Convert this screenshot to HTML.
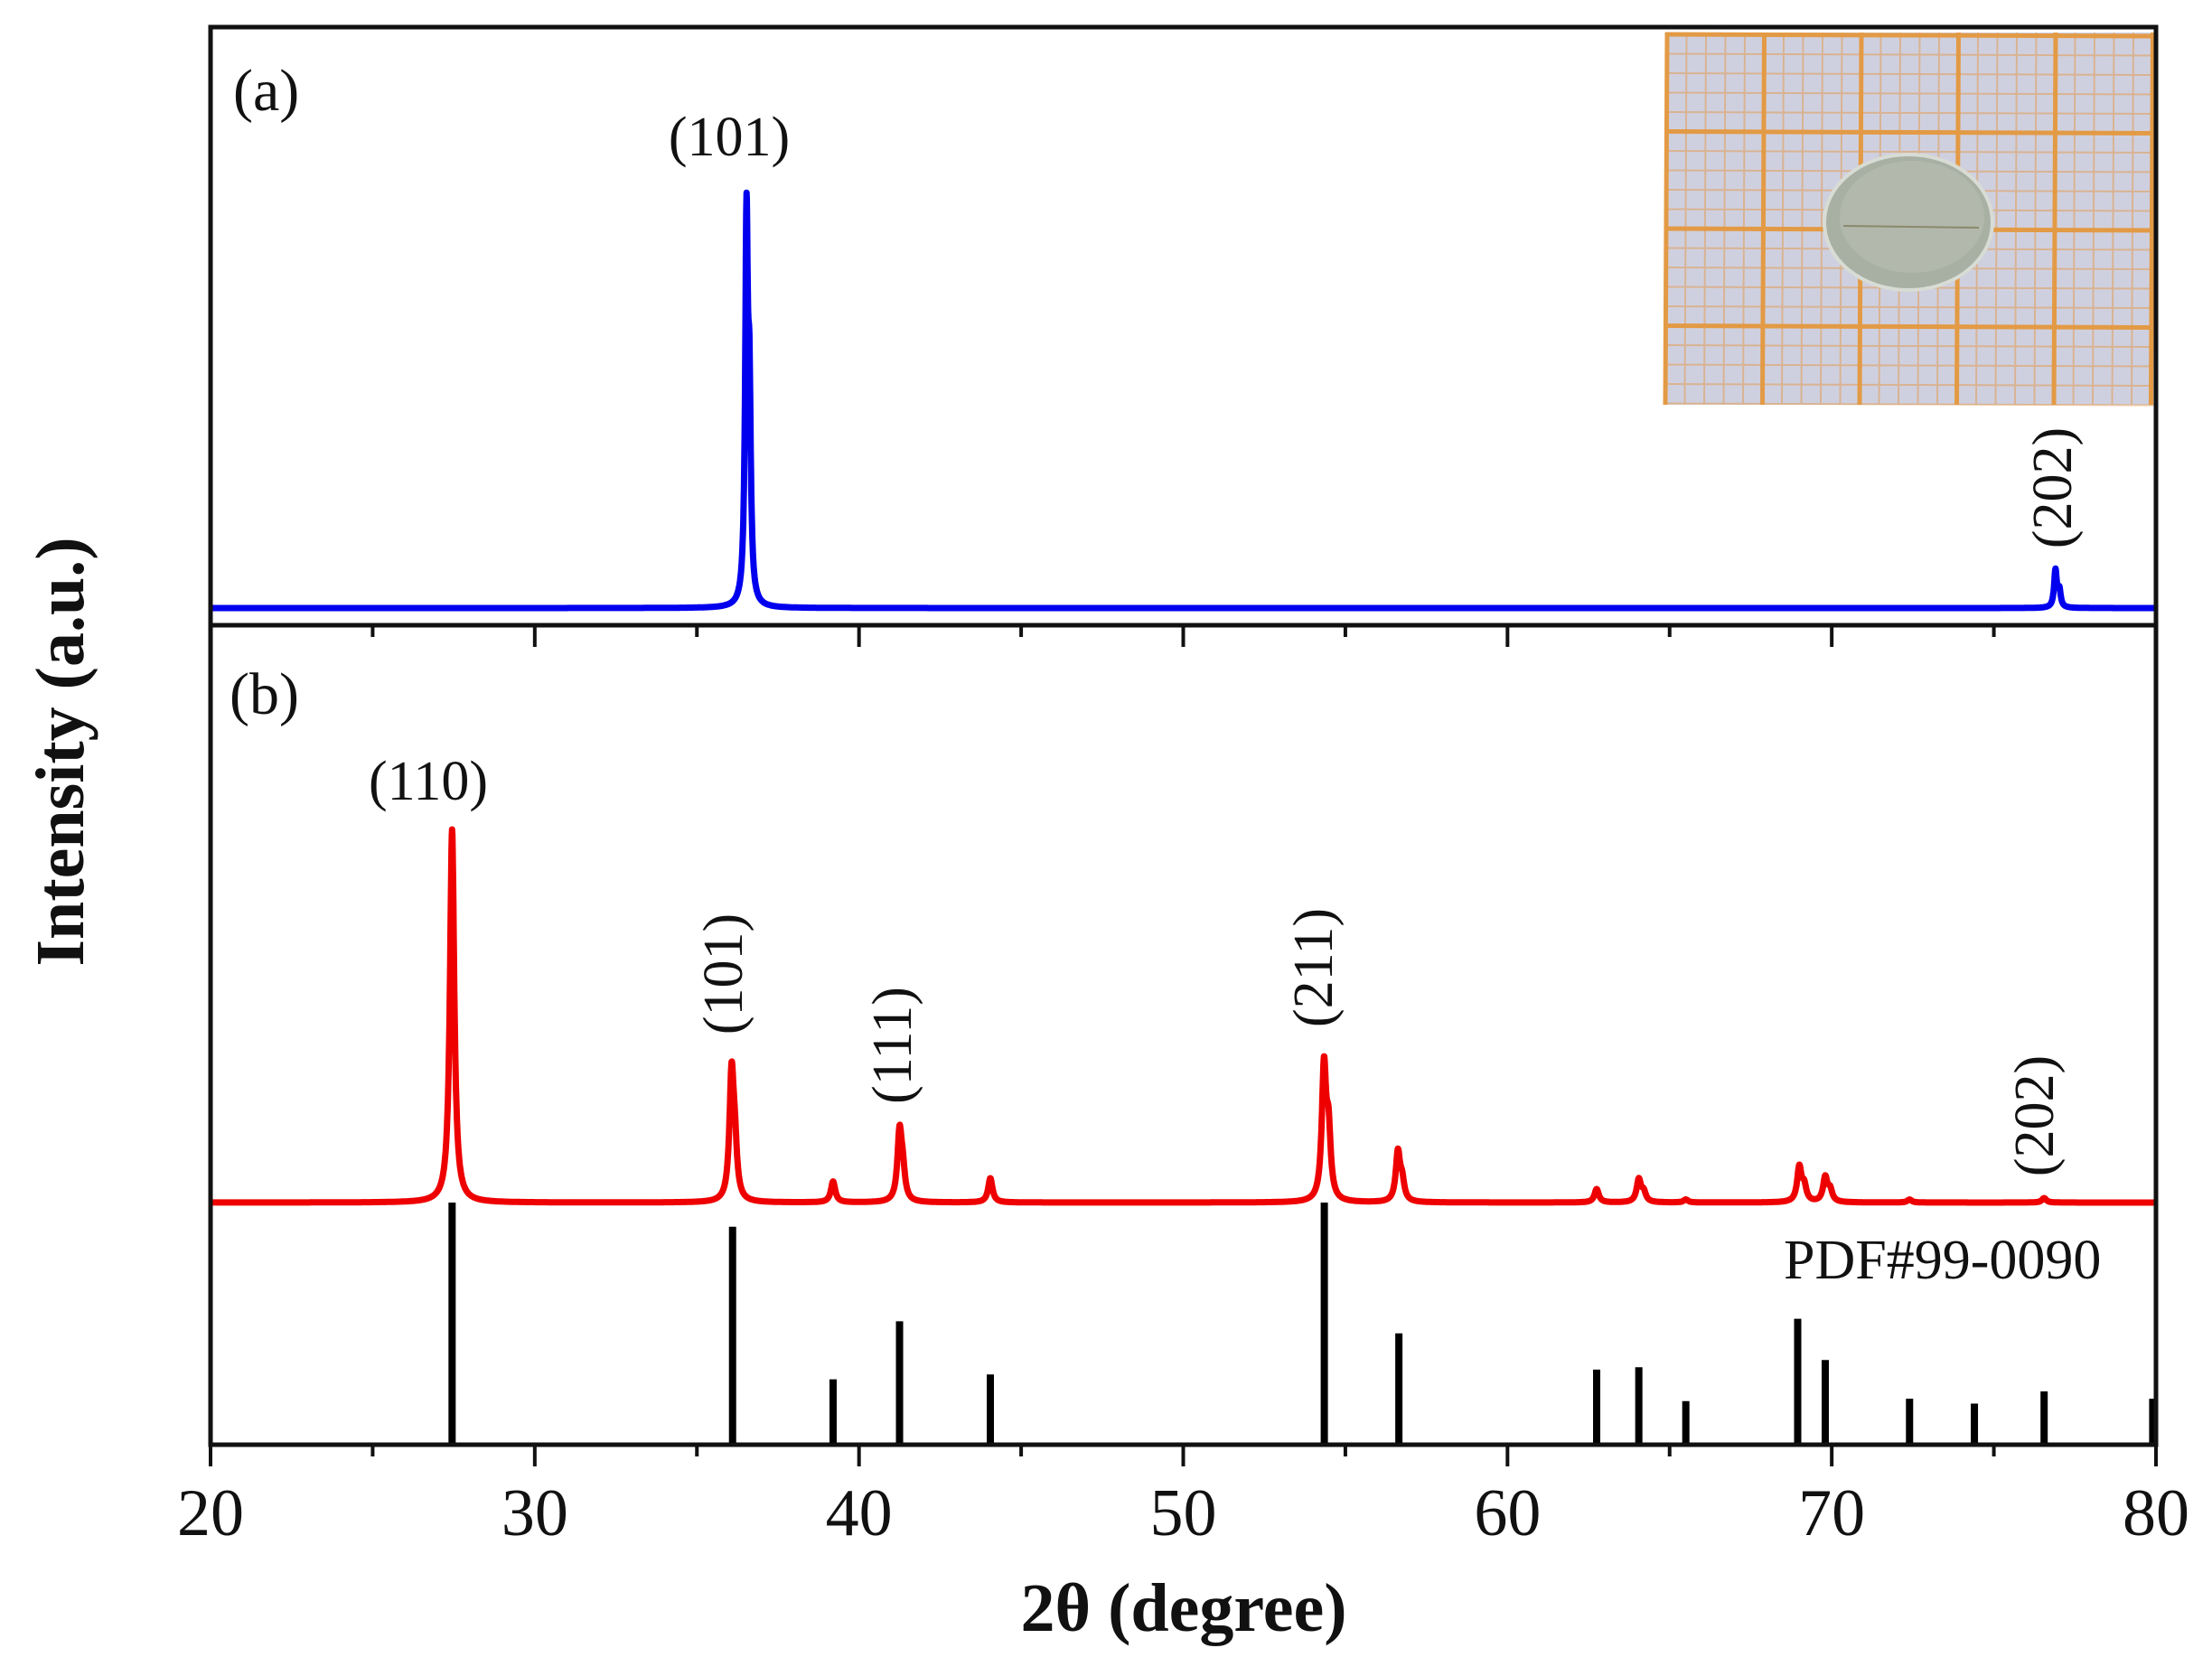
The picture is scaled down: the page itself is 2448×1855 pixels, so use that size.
<!DOCTYPE html>
<html><head><meta charset="utf-8"><style>
html,body{margin:0;padding:0;background:#fff;}
svg{display:block;}
text{font-family:"Liberation Serif",serif;fill:#111;}
</style></head><body>
<svg id="chart" width="2448" height="1855" viewBox="0 0 2448 1855" xmlns="http://www.w3.org/2000/svg">
<rect width="2448" height="1855" fill="#fff"/>
<g>
  <rect x="1843" y="36" width="542" height="412" fill="#cfd0df"/>
  <g id="grid-minor" stroke="#e0a060" stroke-width="2" opacity="0.6"></g>
  <g id="grid-major" stroke="#e39a45" stroke-width="5"></g>
  <ellipse cx="2112" cy="246" rx="93" ry="75" fill="#a8b0a4" stroke="#d8dcd4" stroke-width="4"/>
  <ellipse cx="2116" cy="240" rx="80" ry="62" fill="#b4baae" opacity="0.8"/>
  <line x1="2040" y1="250" x2="2190" y2="252" stroke="#8a8a6a" stroke-width="2"/>
</g>
<g id="plot"></g>
<rect x="233" y="30" width="2153" height="1569" fill="none" stroke="#111" stroke-width="5"/>
<line x1="233" y1="692" x2="2386" y2="692" stroke="#111" stroke-width="5"/>
<g id="ticks" stroke="#111" stroke-width="4"></g>
<g id="ticklabels"></g>
<text x="258" y="122" font-size="66">(a)</text>
<text x="254" y="790" font-size="66">(b)</text>
<text x="807" y="172" font-size="62" text-anchor="middle">(101)</text>
<text transform="translate(2292,540) rotate(-90)" font-size="62" text-anchor="middle">(202)</text>
<text x="474" y="885" font-size="62" text-anchor="middle">(110)</text>
<text transform="translate(821,1078) rotate(-90)" font-size="62" text-anchor="middle">(101)</text>
<text transform="translate(1008,1157) rotate(-90)" font-size="62" text-anchor="middle">(111)</text>
<text transform="translate(1474,1071) rotate(-90)" font-size="62" text-anchor="middle">(211)</text>
<text transform="translate(2272,1235) rotate(-90)" font-size="62" text-anchor="middle">(202)</text>
<text x="1974" y="1415" font-size="62">PDF#99-0090</text>
<text x="1310" y="1805" font-size="76" font-weight="bold" text-anchor="middle">2θ (degree)</text>
<text transform="translate(92,832) rotate(-90)" font-size="76" font-weight="bold" text-anchor="middle">Intensity (a.u.)</text>
</svg>
<script>
const xTicks = [20, 30, 40, 50, 60, 70, 80];
const xMinorTicks = [25, 35, 45, 55, 65, 75];
const filmPeakPos = [36.53, 36.62, 76.9, 77.02];
const filmPeakInt = [90, 45, 9, 4];
const powderPeakPos = [27.45, 36.07, 36.17, 39.2, 41.25, 41.35, 44.05, 54.34, 54.48, 56.62, 56.75, 62.75, 64.05, 64.2, 65.5, 69.0, 69.15, 69.8, 69.95, 72.4, 76.55];
const powderPeakInt = [100, 33, 12, 5.6, 18, 7, 6.5, 35, 17, 13, 5, 3.6, 6, 2.5, 0.8, 9.2, 4, 6.5, 3, 0.8, 1.2];
const refPos = [27.45, 36.1, 39.2, 41.25, 44.05, 54.35, 56.65, 62.75, 64.05, 65.5, 68.95, 69.8, 72.4, 74.4, 76.55, 79.9];
const refInt = [100, 90, 27, 51, 29, 100, 46, 31, 32, 18, 52, 35, 19, 17, 22, 19];

const NS = "http://www.w3.org/2000/svg";
const X0 = 233, X1 = 2386;
const xs = v => X0 + (v - 20) / 60 * (X1 - X0);
const yA = v => 673 - v * 4.57;
const yB = v => 1331 - v * 4.13;
const yR = v => 1599 - v * 2.68;
const plot = document.getElementById('plot');

function profile(pos, ints, x, w) {
  let s = 0;
  for (let i = 0; i < pos.length; i++) { const d = (x - pos[i]) / w; s += ints[i] / (1 + d * d); }
  return s;
}
function curve(pos, ints, yf, w) {
  let d = '';
  for (let x = 20; x <= 80.0001; x += 0.01) {
    d += (d ? 'L' : 'M') + xs(x).toFixed(1) + ',' + yf(profile(pos, ints, x, w)).toFixed(1);
  }
  return d;
}
const pa = document.createElementNS(NS, 'path');
pa.setAttribute('d', curve(filmPeakPos, filmPeakInt, yA, 0.05));
pa.setAttribute('fill', 'none'); pa.setAttribute('stroke', '#0000ee'); pa.setAttribute('stroke-width', '7'); pa.setAttribute('stroke-linejoin', 'round');


plot.appendChild(pa);

for (let i = 0; i < refPos.length; i++) {
  const l = document.createElementNS(NS, 'line');
  l.setAttribute('x1', xs(refPos[i])); l.setAttribute('x2', xs(refPos[i]));
  l.setAttribute('y1', 1599); l.setAttribute('y2', yR(refInt[i]));
  l.setAttribute('stroke', '#000'); l.setAttribute('stroke-width', '8');
  
  
  plot.appendChild(l);
}
const pb = document.createElementNS(NS, 'path');
pb.setAttribute('d', curve(powderPeakPos, powderPeakInt, yB, 0.08));
pb.setAttribute('fill', 'none'); pb.setAttribute('stroke', '#ee0000'); pb.setAttribute('stroke-width', '7'); pb.setAttribute('stroke-linejoin', 'round');


plot.appendChild(pb);

const tg = document.getElementById('ticks'), tl = document.getElementById('ticklabels');
function tick(v, len) {
  const a = document.createElementNS(NS, 'line');
  a.setAttribute('x1', xs(v)); a.setAttribute('x2', xs(v)); a.setAttribute('y1', 1599); a.setAttribute('y2', 1599 + len);
  
  
  tg.appendChild(a);
  const b = document.createElementNS(NS, 'line');
  b.setAttribute('x1', xs(v)); b.setAttribute('x2', xs(v)); b.setAttribute('y1', 692); b.setAttribute('y2', 692 + len);
  
  
  tg.appendChild(b);
}
xTicks.forEach(v => {
  tick(v, 24);
  const t = document.createElementNS(NS, 'text');
  t.setAttribute('x', xs(v)); t.setAttribute('y', 1699); t.setAttribute('font-size', '74'); t.setAttribute('text-anchor', 'middle');
  t.textContent = v;
  
  
  tl.appendChild(t);
});
xMinorTicks.forEach(v => tick(v, 13));

const gm = document.getElementById('grid-minor'), gM = document.getElementById('grid-major');
for (let i = 0; i <= 25; i++) {
  const x = 1845 + i * 21.5, y = 38 + i * 21.5;
  const g = (i % 5 === 0) ? gM : gm;
  if (x < 2385) {
    const v = document.createElementNS(NS, 'line');
    v.setAttribute('x1', x); v.setAttribute('x2', x - 2); v.setAttribute('y1', 36); v.setAttribute('y2', 448);
    g.appendChild(v);
  }
  if (y < 448) {
    const h = document.createElementNS(NS, 'line');
    h.setAttribute('x1', 1843); h.setAttribute('x2', 2385); h.setAttribute('y1', y); h.setAttribute('y2', y + 2);
    g.appendChild(h);
  }
}
</script>
</body></html>
